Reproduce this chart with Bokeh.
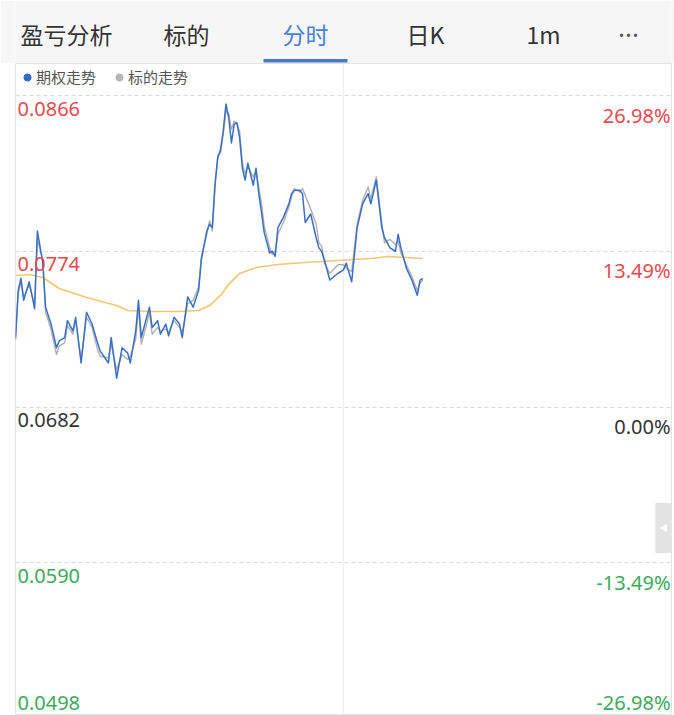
from bokeh.plotting import figure
from bokeh.models import ColumnDataSource, Range1d, Grid, FixedTicker, Legend, LegendItem
from bokeh.layouts import column
from bokeh.embed import file_html
from bokeh.resources import INLINE
from bokeh.core.properties import value, field

# ---------------- data ----------------
tabs = ["盈亏分析", "标的", "分时", "日K", "1m", "···"]
active_tab = "分时"

# minutes since 9:30 (240-minute session, 11:30/13:00 at minute 120)
minutes = [0, 1, 2, 3, 5, 7, 8, 10, 11, 13,
           15, 16, 18, 19, 21, 22, 24, 26, 28, 30,
           31, 34, 35, 37, 39, 41, 42, 44, 45, 46,
           48, 49, 50, 52, 53, 55, 56, 58, 60, 61,
           63, 65, 67, 68, 70, 71, 72, 73, 74, 75,
           76, 77, 78, 79, 80, 81, 82, 83, 84, 85,
           87, 88, 89, 90, 91, 93, 94, 95, 96, 98,
           100, 101, 102, 104, 105, 106, 108, 110, 111, 112,
           113, 115, 118, 120, 121, 123, 125, 127, 129, 130,
           132, 134, 135, 137, 139, 140, 141, 143, 145, 147,
           148, 149]

option_price = [0.0722, 0.0751, 0.0758, 0.0745, 0.0756, 0.0740, 0.0786, 0.0767, 0.0741, 0.0731,
                0.0717, 0.0721, 0.0723, 0.0733, 0.0727, 0.0735, 0.0708, 0.0738, 0.0731, 0.0720,
                0.0715, 0.0708, 0.0723, 0.0699, 0.0717, 0.0714, 0.0708, 0.0727, 0.0745, 0.0723,
                0.0735, 0.0741, 0.0729, 0.0733, 0.0725, 0.0731, 0.0724, 0.0735, 0.0731, 0.0723,
                0.0747, 0.0741, 0.0751, 0.0769, 0.0786, 0.0790, 0.0788, 0.0814, 0.0829, 0.0834,
                0.0845, 0.0861, 0.0853, 0.0838, 0.0849, 0.0850, 0.0841, 0.0823, 0.0816, 0.0826,
                0.0813, 0.0823, 0.0808, 0.0797, 0.0785, 0.0773, 0.0774, 0.0771, 0.0788, 0.0794,
                0.0802, 0.0808, 0.0810, 0.0810, 0.0808, 0.0791, 0.0796, 0.0782, 0.0776, 0.0774,
                0.0769, 0.0757, 0.0761, 0.0763, 0.0767, 0.0756, 0.0788, 0.0802, 0.0808, 0.0802,
                0.0816, 0.0788, 0.0782, 0.0776, 0.0774, 0.0784, 0.0776, 0.0764, 0.0757, 0.0748,
                0.0757, 0.0758]

underlying_trend = [0.0724, 0.0749, 0.0756, 0.0747, 0.0754, 0.0743, 0.0781, 0.0769, 0.0738, 0.0728,
                    0.0713, 0.0718, 0.0720, 0.0730, 0.0725, 0.0733, 0.0710, 0.0735, 0.0729, 0.0716,
                    0.0712, 0.0711, 0.0719, 0.0704, 0.0713, 0.0710, 0.0712, 0.0722, 0.0741, 0.0719,
                    0.0731, 0.0738, 0.0725, 0.0729, 0.0727, 0.0728, 0.0726, 0.0733, 0.0729, 0.0726,
                    0.0743, 0.0745, 0.0753, 0.0771, 0.0784, 0.0792, 0.0786, 0.0812, 0.0831, 0.0832,
                    0.0843, 0.0857, 0.0855, 0.0846, 0.0851, 0.0849, 0.0845, 0.0826, 0.0820, 0.0824,
                    0.0818, 0.0821, 0.0812, 0.0802, 0.0789, 0.0776, 0.0772, 0.0774, 0.0784, 0.0791,
                    0.0800, 0.0806, 0.0811, 0.0809, 0.0811, 0.0807, 0.0799, 0.0790, 0.0779, 0.0777,
                    0.0767, 0.0761, 0.0766, 0.0766, 0.0764, 0.0762, 0.0790, 0.0804, 0.0812, 0.0805,
                    0.0818, 0.0791, 0.0779, 0.0781, 0.0778, 0.0780, 0.0773, 0.0766, 0.0759, 0.0751,
                    0.0755, 0.0757]

avg_minutes = [0, 5, 10, 16, 26, 37, 41, 50, 60, 67, 71,
               75, 78, 82, 88, 96, 106, 118, 130, 136, 143, 149]
avg_price = [0.07597, 0.07603, 0.07585, 0.07520, 0.07467, 0.07420, 0.07390, 0.07384, 0.07384, 0.07390, 0.07419,
             0.07479, 0.07544, 0.07609, 0.07644, 0.07662, 0.07674, 0.07685, 0.07697, 0.07709, 0.07703, 0.07697]

price_ticks = [0.0866, 0.0774, 0.0682, 0.0590, 0.0498]
price_labels = ["0.0866", "0.0774", "0.0682", "0.0590", "0.0498"]
pct_labels = ["26.98%", "13.49%", "0.00%", "-13.49%", "-26.98%"]
prev_close = 0.0682
session_minutes = 240

# ---------------- styles ----------------
RED = "#e64a50"
GREEN = "#3daa5c"
DARK = "#333333"
BLUE_LINE = "#3b6fc6"
GRAY_LINE = "#b0b0b0"
AVG_LINE = "#f1c672"
TAB_BLUE = "#4a7fd6"
CJK = "Noto Sans CJK SC"
NUM = "Noto Sans"

W = 674
HDR_H = 63
CHART_H = 652
FRAME_L = 15
FRAME_R = 671

# ---------------- header (tabs) ----------------
# frame spans the same horizontal pixels as the chart frame; x range = page pixels
hdr = figure(width=W, height=HDR_H, x_range=Range1d(FRAME_L, FRAME_R), y_range=Range1d(HDR_H, 0),
             x_axis_type=None, y_axis_type=None, toolbar_location=None,
             output_backend="svg", min_border_left=FRAME_L, min_border_right=W - FRAME_R,
             min_border_top=0, min_border_bottom=0,
             background_fill_color="#f6f6f6", border_fill_color="#f6f6f6",
             outline_line_color=None)
hdr.grid.visible = False

tab_x = [66, 186, 305, 425, 543, 628]
tab_colors = [TAB_BLUE if t == active_tab else ("#555555" if t == "···" else DARK) for t in tabs]
tab_sizes = ["26px" if t == "···" else "23px" for t in tabs]
tab_fonts = [NUM if t == "···" else CJK for t in tabs]
tsrc = ColumnDataSource(dict(x=tab_x, y=[33] * len(tabs), text=tabs, color=tab_colors,
                             size=tab_sizes, font=tab_fonts))
hdr.text(x="x", y="y", text="text", source=tsrc, text_color="color",
         text_font=field("font"), text_font_size=field("size"),
         text_align="center", text_baseline="middle")
ai = tabs.index(active_tab)
hdr.quad(left=[tab_x[ai] - 42], right=[tab_x[ai] + 42], top=[58.5], bottom=[62],
         fill_color="#4a78d0", line_color=None)

# ---------------- chart ----------------
px = (price_ticks[0] - price_ticks[1]) / 155.75   # value per pixel
y_top = price_ticks[0] + 32 * px
y_bot = price_ticks[0] - 620 * px

p = figure(width=W, height=CHART_H, x_range=Range1d(0, session_minutes), y_range=Range1d(y_bot, y_top),
           x_axis_type=None, y_axis_type=None, toolbar_location=None,
           output_backend="svg", min_border_left=FRAME_L, min_border_right=W - FRAME_R,
           min_border_top=0, min_border_bottom=0,
           background_fill_color="white", border_fill_color="white",
           outline_line_color="#e4e4e4")

p.add_layout(Grid(dimension=1, ticker=FixedTicker(ticks=price_ticks),
                  grid_line_color="#d9d9d9", grid_line_dash="4 3"))
p.add_layout(Grid(dimension=0, ticker=FixedTicker(ticks=[session_minutes / 2]),
                  grid_line_color="#ededed"))

p.line(minutes, underlying_trend, line_color=GRAY_LINE, line_width=1.4, line_join="round")
p.line(avg_minutes, avg_price, line_color=AVG_LINE, line_width=1.6, line_join="round")
p.line(minutes, option_price, line_color=BLUE_LINE, line_width=1.5, line_join="round")

# tick labels drawn inside the plot area
lab_colors = [RED if t > prev_close + 1e-9 else (GREEN if t < prev_close - 1e-9 else DARK) for t in price_ticks]
top_src = ColumnDataSource(dict(y=price_ticks[:4], lab=price_labels[:4], pct=pct_labels[:4], color=lab_colors[:4]))
bot_src = ColumnDataSource(dict(y=price_ticks[4:], lab=price_labels[4:], pct=pct_labels[4:], color=lab_colors[4:]))
for src, base, off in ((top_src, "top", 6), (bot_src, "alphabetic", -16)):
    p.text(x=0, y="y", text="lab", source=src, x_offset=2, y_offset=off,
           text_align="left", text_baseline=base, text_color="color",
           text_font=value(NUM), text_font_size="20px")
    p.text(x=session_minutes, y="y", text="pct", source=src, x_offset=-1, y_offset=off,
           text_align="right", text_baseline=base, text_color="color",
           text_font=value(NUM), text_font_size="20px")

# collapse handle on the right edge
p.quad(left=[session_minutes - 5.9], right=[session_minutes], top=[price_ticks[2] - 96 * px],
       bottom=[price_ticks[2] - 146 * px], fill_color="#e3e3e3", line_color=None)
p.scatter(x=[session_minutes - 2.6], y=[price_ticks[2] - 121 * px], marker="triangle",
          angle=1.5708, size=7, color="white")

# legend (dots only, no plotted points)
nan = float("nan")
dot_b = p.scatter(x=[nan], y=[nan], marker="circle", size=8, color="#2f6bcf")
dot_g = p.scatter(x=[nan], y=[nan], marker="circle", size=8, color="#b5b5b5")
legend = Legend(items=[LegendItem(label=value("期权走势"), renderers=[dot_b]),
                       LegendItem(label=value("标的走势"), renderers=[dot_g])],
                orientation="horizontal", location="top_left", margin=0, padding=3,
                spacing=14, label_standoff=0, glyph_width=18, glyph_height=20,
                label_text_font=CJK, label_text_font_size="15px", label_text_color="#555555",
                label_height=20, border_line_alpha=0, background_fill_alpha=0)
p.add_layout(legend)

layout = column(hdr, p, spacing=0)
open("out.html", "w").write(file_html(layout, INLINE))
